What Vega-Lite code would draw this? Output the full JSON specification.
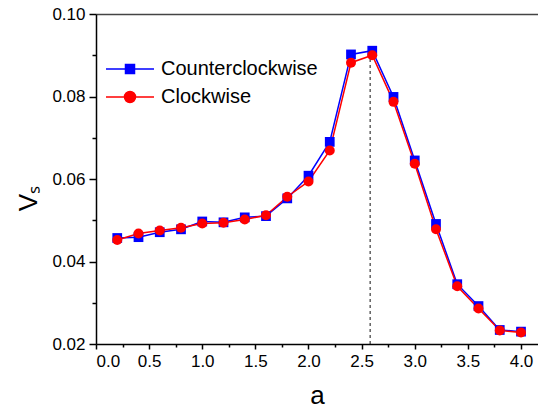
{
  "$schema": "https://vega.github.io/schema/vega-lite/v6.json",
  "autosize": "none",
  "width": 442,
  "height": 330,
  "padding": {"left": 96, "top": 14, "right": 0, "bottom": 67},
  "background": "white",
  "config": {
    "view": {"stroke": null},
    "font": "Liberation Sans",
    "axis": {"grid": false, "domainColor": "black", "tickColor": "black", "labelColor": "black", "titleColor": "black", "labelFont": "Liberation Sans", "titleFont": "Liberation Sans", "titleFontWeight": "normal", "domainWidth": 1.5, "tickWidth": 1.5}
  },
  "datasets": {
    "main": [
      {"a": 0.2, "Vs": 0.0457, "series": "Counterclockwise"},
      {"a": 0.4, "Vs": 0.0459, "series": "Counterclockwise"},
      {"a": 0.6, "Vs": 0.0471, "series": "Counterclockwise"},
      {"a": 0.8, "Vs": 0.0478, "series": "Counterclockwise"},
      {"a": 1.0, "Vs": 0.0497, "series": "Counterclockwise"},
      {"a": 1.2, "Vs": 0.0495, "series": "Counterclockwise"},
      {"a": 1.4, "Vs": 0.0507, "series": "Counterclockwise"},
      {"a": 1.6, "Vs": 0.0510, "series": "Counterclockwise"},
      {"a": 1.8, "Vs": 0.0553, "series": "Counterclockwise"},
      {"a": 2.0, "Vs": 0.0608, "series": "Counterclockwise"},
      {"a": 2.2, "Vs": 0.0690, "series": "Counterclockwise"},
      {"a": 2.4, "Vs": 0.0902, "series": "Counterclockwise"},
      {"a": 2.6, "Vs": 0.0911, "series": "Counterclockwise"},
      {"a": 2.8, "Vs": 0.0799, "series": "Counterclockwise"},
      {"a": 3.0, "Vs": 0.0645, "series": "Counterclockwise"},
      {"a": 3.2, "Vs": 0.0491, "series": "Counterclockwise"},
      {"a": 3.4, "Vs": 0.0345, "series": "Counterclockwise"},
      {"a": 3.6, "Vs": 0.0292, "series": "Counterclockwise"},
      {"a": 3.8, "Vs": 0.0234, "series": "Counterclockwise"},
      {"a": 4.0, "Vs": 0.0230, "series": "Counterclockwise"},
      {"a": 0.2, "Vs": 0.0452, "series": "Clockwise"},
      {"a": 0.4, "Vs": 0.0468, "series": "Clockwise"},
      {"a": 0.6, "Vs": 0.0475, "series": "Clockwise"},
      {"a": 0.8, "Vs": 0.0482, "series": "Clockwise"},
      {"a": 1.0, "Vs": 0.0492, "series": "Clockwise"},
      {"a": 1.2, "Vs": 0.0494, "series": "Clockwise"},
      {"a": 1.4, "Vs": 0.0502, "series": "Clockwise"},
      {"a": 1.6, "Vs": 0.0512, "series": "Clockwise"},
      {"a": 1.8, "Vs": 0.0557, "series": "Clockwise"},
      {"a": 2.0, "Vs": 0.0594, "series": "Clockwise"},
      {"a": 2.2, "Vs": 0.0669, "series": "Clockwise"},
      {"a": 2.4, "Vs": 0.0882, "series": "Clockwise"},
      {"a": 2.6, "Vs": 0.0900, "series": "Clockwise"},
      {"a": 2.8, "Vs": 0.0787, "series": "Clockwise"},
      {"a": 3.0, "Vs": 0.0637, "series": "Clockwise"},
      {"a": 3.2, "Vs": 0.0478, "series": "Clockwise"},
      {"a": 3.4, "Vs": 0.0340, "series": "Clockwise"},
      {"a": 3.6, "Vs": 0.0286, "series": "Clockwise"},
      {"a": 3.8, "Vs": 0.0233, "series": "Clockwise"},
      {"a": 4.0, "Vs": 0.0228, "series": "Clockwise"}
    ],
    "marker": [{"a": 2.58, "y1": 0.02, "y2": 0.0900}]
  },
  "resolve": {"axis": {"x": "independent", "y": "independent"}},
  "layer": [
    {
      "data": {"name": "marker"},
      "mark": {"type": "rule", "strokeDash": [3, 3], "color": "#111", "strokeWidth": 1},
      "encoding": {
        "x": {"field": "a", "type": "quantitative", "scale": {"domain": [0, 4.16], "nice": false, "zero": false},
          "axis": {"orient": "bottom", "values": [0.25, 0.75, 1.25, 1.75, 2.25, 2.75, 3.25, 3.75], "labels": false, "domain": false, "tickSize": 3, "title": null}},
        "y": {"field": "y1", "type": "quantitative", "scale": {"domain": [0.02, 0.1], "nice": false, "zero": false},
          "axis": {"orient": "left", "values": [0.03, 0.05, 0.07, 0.09], "labels": false, "domain": false, "tickSize": 4, "title": null}},
        "y2": {"field": "y2"}
      }
    },
    {
      "data": {"name": "main"},
      "mark": {"type": "line", "strokeWidth": 1.5},
      "encoding": {
        "x": {"field": "a", "type": "quantitative",
          "axis": {"orient": "bottom", "values": [0, 0.5, 1, 1.5, 2, 2.5, 3, 3.5, 4], "format": ".1f", "tickSize": 5, "labelFontSize": 17, "labelPadding": 4, "title": "a", "titleFontSize": 26, "titlePadding": 13}},
        "y": {"field": "Vs", "type": "quantitative",
          "axis": {"orient": "left", "values": [0.02, 0.04, 0.06, 0.08, 0.1], "format": ".2f", "tickSize": 7, "labelFontSize": 17, "labelPadding": 4, "title": "Vₛ", "titleFontSize": 26, "titleX": -68, "titleY": 184, "titleAngle": -90, "titleBaseline": "middle"}},
        "color": {"field": "series", "type": "nominal",
          "scale": {"domain": ["Counterclockwise", "Clockwise"], "range": ["#0000ff", "#ff0000"]},
          "sort": ["Counterclockwise", "Clockwise"],
          "legend": {
            "orient": "none", "legendX": 24, "legendY": 45, "title": null,
            "symbolSize": 100, "symbolStrokeWidth": 1.5, "labelFontSize": 20, "labelFont": "Liberation Sans", "labelColor": "black", "labelOffset": 21, "rowPadding": 8, "padding": 0,
            "encode": {"symbols": {"update": {
              "shape": {"signal": "datum.value === 'Clockwise' ? 'M-4.8,0H4.8M1.1,0A1.1,1.1,0,1,1,-1.1,0A1.1,1.1,0,1,1,1.1,0Z' : 'M-4.8,0H4.8M-0.9,-0.9H0.9V0.9H-0.9Z'"},
              "fill": {"signal": "datum.value === 'Clockwise' ? '#ff0000' : '#0000ff'"},
              "stroke": {"signal": "datum.value === 'Clockwise' ? '#ff0000' : '#0000ff'"},
              "strokeWidth": {"value": 1.5},
              "opacity": {"value": 1}
            }}}
          }
        }
      }
    },
    {
      "data": {"name": "main"},
      "transform": [{"filter": "datum.series === 'Counterclockwise'"}],
      "mark": {"type": "point", "shape": "square", "filled": true, "opacity": 1, "size": 95, "color": "#0000ff"},
      "encoding": {
        "x": {"field": "a", "type": "quantitative",
          "axis": {"orient": "top", "labels": false, "ticks": false, "domainColor": "#444", "domainWidth": 1.5, "title": null}},
        "y": {"field": "Vs", "type": "quantitative", "axis": null}
      }
    },
    {
      "data": {"name": "main"},
      "transform": [{"filter": "datum.series === 'Clockwise'"}],
      "mark": {"type": "point", "shape": "circle", "filled": true, "opacity": 1, "size": 100, "color": "#ff0000"},
      "encoding": {
        "x": {"field": "a", "type": "quantitative", "axis": null},
        "y": {"field": "Vs", "type": "quantitative", "axis": null}
      }
    }
  ]
}
